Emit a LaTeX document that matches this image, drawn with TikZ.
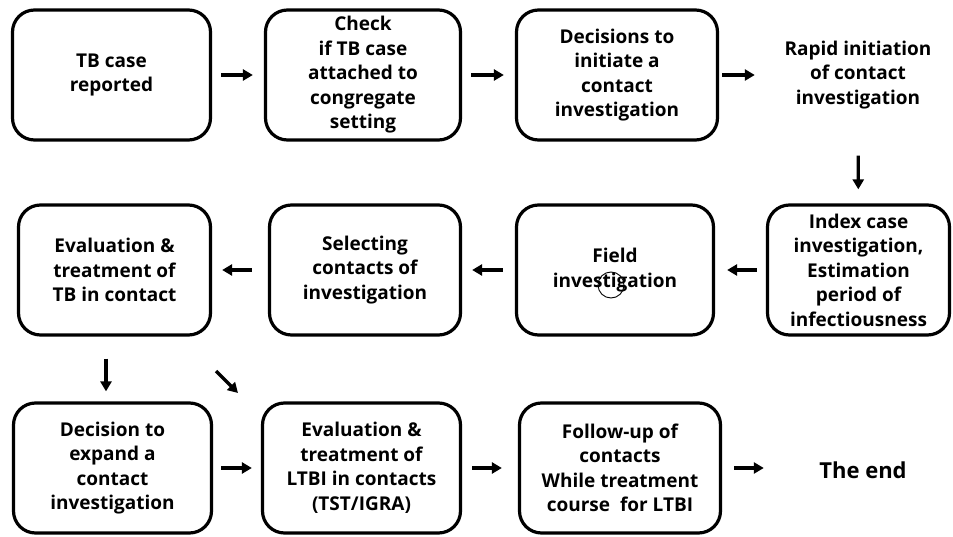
\documentclass[tikz,border=0pt]{standalone}
\usepackage{fontspec}
\setmainfont{Open Sans}
\usetikzlibrary{arrows.meta}

\newcommand{\stagefont}{\fontsize{19}{24.5}\selectfont\bfseries}

\tikzset{
  stage/.style={draw, line width=3.2pt, rounded corners=22pt, minimum width=#1,
    minimum height=130pt, align=center, font=\stagefont},
  plain/.style={minimum width=#1, minimum height=131pt, align=center, font=\stagefont},
  flow/.style={line width=3.2pt, -{Triangle[length=10pt,width=11pt]},
    shorten <=9pt, shorten >=11pt}
}

\begin{document}
\begin{tikzpicture}[x=1pt,y=1pt]
\useasboundingbox (0,0) rectangle (953,536);

\node[stage=198pt] (reported) at (111.5,461) {TB case\\reported};
\node[stage=195pt] (check) at (363,461) {Check\\if TB case\\attached to\\congregate\\setting};
\node[stage=201pt] (initiate) at (617,461) {Decisions to\\initiate a\\contact\\investigation};
\node[plain=184pt] (rapid) at (858,461) {Rapid initiation\\of contact\\investigation};

\node[stage=182pt] (index) at (858.5,266) {Index case\\investigation,\\Estimation\\period of\\infectiousness};
\node[stage=197pt] (field) at (615,266) {Field\\investigation};
\node[stage=191pt] (selecting) at (365,266) {Selecting\\contacts of\\investigation};
\node[stage=192pt] (evaltb) at (114.5,266) {Evaluation \&\\treatment of\\TB in contact};

\node[stage=198pt] (expand) at (112.5,68) {Decision to\\expand a\\contact\\investigation};
\node[stage=198pt] (evalltbi) at (361.5,68) {Evaluation \&\\treatment of\\LTBI in contacts\\(TST/IGRA)};
\node[stage=201pt] (followup) at (620,68) {Follow-up of\\contacts\\While treatment\\course\ \ for LTBI};
\node[plain=176pt, font=\fontsize{22}{26}\selectfont\bfseries] (theend) at (863,66) {The end};

\draw[line width=0.9pt] ([shift={(-4pt,-15pt)}]field.center) circle (13pt);

\coordinate (diagstart) at (216,165);
\coordinate (diagend) at (238,143);

\draw[flow] (reported) -- (check);
\draw[flow] (check) -- (initiate);
\draw[flow, shorten <=3pt] (initiate) -- (rapid);
\draw[flow, shorten <=15pt, shorten >=14pt] (rapid) -- (index);
\draw[flow, shorten >=12pt] (index) -- (field);
\draw[flow, shorten <=12pt, shorten >=10pt] (field) -- (selecting);
\draw[flow, shorten <=16pt, shorten >=10pt] (selecting) -- (evaltb);
\draw[flow, shorten <=22pt, shorten >=10pt] ([xshift=-8.5pt]evaltb.south) -- ([xshift=-8.5pt]evaltb.south |- expand.north);
\draw[flow, shorten <=0pt, shorten >=0pt] (diagstart) -- (diagend);
\draw[flow, shorten <=8pt, shorten >=9pt] (expand) -- (evalltbi);
\draw[flow, shorten <=10pt, shorten >=16pt] (evalltbi) -- (followup);
\draw[flow, shorten <=12pt] (followup) -- (theend.west |- followup.east);
\end{tikzpicture}
\end{document}
